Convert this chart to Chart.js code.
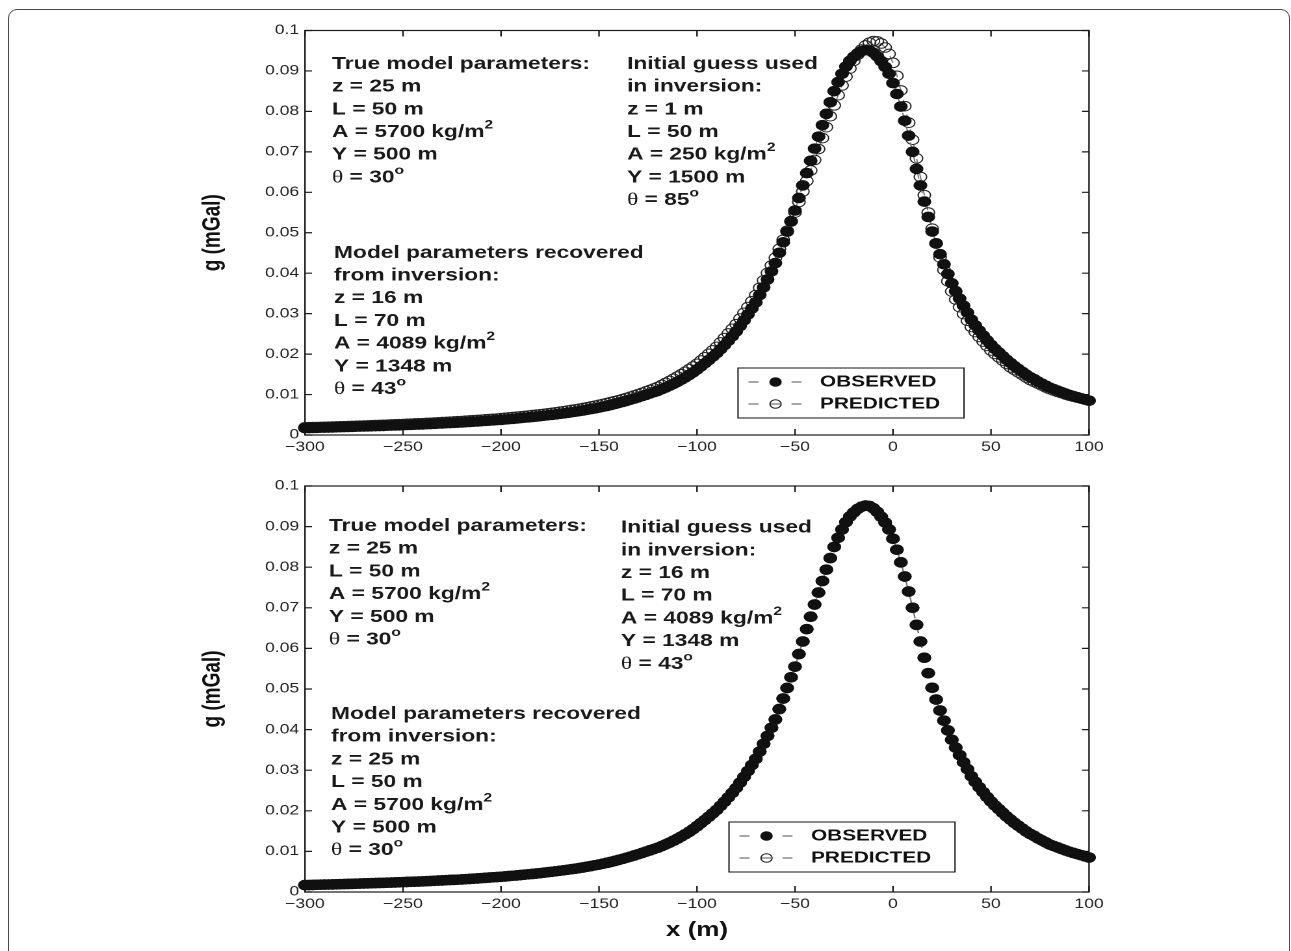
<!DOCTYPE html>
<html>
<head>
<meta charset="utf-8">
<title>Gravity anomaly inversion</title>
<script src="https://cdn.jsdelivr.net/npm/chart.js@4.4.0/dist/chart.umd.min.js"></script>
<style>
  html, body { margin: 0; padding: 0; background: #fff; overflow: hidden; }
  body { width: 1291px; height: 951px; position: relative; }
  .frame {
    position: absolute; left: 8px; top: 9px; width: 1282px; height: 1000px;
    border: 1.5px solid #4a4a4a; border-radius: 9px; box-sizing: border-box;
  }
  .panel { position: absolute; left: 0; transform-origin: 0 0; transform: scaleX(1.3); }
</style>
</head>
<body>
<div class="frame"></div>
<div class="panel" style="top:0"><canvas id="topPanel"></canvas></div>
<div class="panel" style="top:470px"><canvas id="bottomPanel"></canvas></div>
<script>
// station positions along the profile (m)
const stations = [
  -300,-298,-296,-294,-292,-290,-288,-286,-284,-282,
  -280,-278,-276,-274,-272,-270,-268,-266,-264,-262,
  -260,-258,-256,-254,-252,-250,-248,-246,-244,-242,
  -240,-238,-236,-234,-232,-230,-228,-226,-224,-222,
  -220,-218,-216,-214,-212,-210,-208,-206,-204,-202,
  -200,-198,-196,-194,-192,-190,-188,-186,-184,-182,
  -180,-178,-176,-174,-172,-170,-168,-166,-164,-162,
  -160,-158,-156,-154,-152,-150,-148,-146,-144,-142,
  -140,-138,-136,-134,-132,-130,-128,-126,-124,-122,
  -120,-118,-116,-114,-112,-110,-108,-106,-104,-102,
  -100,-98,-96,-94,-92,-90,-88,-86,-84,-82,
  -80,-78,-76,-74,-72,-70,-68,-66,-64,-62,
  -60,-58,-56,-54,-52,-50,-48,-46,-44,-42,
  -40,-38,-36,-34,-32,-30,-28,-26,-24,-22,
  -20,-18,-16,-14,-12,-10,-8,-6,-4,-2,
  0,2,4,6,8,10,12,14,16,18,
  20,22,24,26,28,30,32,34,36,38,
  40,42,44,46,48,50,52,54,56,58,
  60,62,64,66,68,70,72,74,76,78,
  80,82,84,86,88,90,92,94,96,98,
  100
];

// observed anomaly g (mGal)
const gObserved = [
  0.00170,0.00172,0.00175,0.00177,0.00180,0.00182,0.00185,0.00187,0.00190,0.00192,
  0.00195,0.00198,0.00201,0.00204,0.00207,0.00210,0.00213,0.00216,0.00219,0.00222,
  0.00225,0.00229,0.00232,0.00236,0.00239,0.00243,0.00247,0.00251,0.00254,0.00258,
  0.00262,0.00266,0.00271,0.00276,0.00281,0.00286,0.00291,0.00296,0.00300,0.00305,
  0.00310,0.00316,0.00322,0.00329,0.00335,0.00342,0.00349,0.00355,0.00362,0.00368,
  0.00375,0.00383,0.00392,0.00400,0.00409,0.00418,0.00427,0.00436,0.00446,0.00455,
  0.00465,0.00476,0.00487,0.00498,0.00510,0.00522,0.00535,0.00548,0.00561,0.00575,
  0.00590,0.00606,0.00623,0.00640,0.00658,0.00677,0.00697,0.00718,0.00740,0.00764,
  0.00790,0.00816,0.00843,0.00871,0.00900,0.00930,0.00961,0.00993,0.01026,0.01058,
  0.01090,0.01130,0.01172,0.01216,0.01263,0.01313,0.01366,0.01422,0.01482,0.01548,
  0.01620,0.01695,0.01773,0.01853,0.01936,0.02020,0.02120,0.02222,0.02330,0.02442,
  0.02560,0.02695,0.02835,0.02980,0.03128,0.03280,0.03460,0.03650,0.03845,0.04045,
  0.04250,0.04505,0.04765,0.05025,0.05288,0.05550,0.05860,0.06170,0.06475,0.06780,
  0.07080,0.07375,0.07660,0.07940,0.08225,0.08500,0.08725,0.08930,0.09110,0.09250,
  0.09350,0.09435,0.09490,0.09520,0.09505,0.09450,0.09360,0.09240,0.09100,0.08930,
  0.08700,0.08430,0.08120,0.07770,0.07400,0.07000,0.06580,0.06170,0.05770,0.05390,
  0.05030,0.04740,0.04470,0.04220,0.03980,0.03750,0.03555,0.03370,0.03195,0.03025,
  0.02850,0.02710,0.02580,0.02460,0.02340,0.02230,0.02130,0.02040,0.01950,0.01860,
  0.01780,0.01700,0.01630,0.01560,0.01490,0.01430,0.01380,0.01320,0.01270,0.01220,
  0.01170,0.01133,0.01097,0.01060,0.01025,0.00990,0.00962,0.00934,0.00906,0.00878,
  0.00850
];

// response of the initial-guess model (mGal)
const gPredictedStart = [
  0.00190,0.00193,0.00195,0.00198,0.00201,0.00204,0.00207,0.00210,0.00213,0.00215,
  0.00218,0.00221,0.00225,0.00228,0.00231,0.00235,0.00238,0.00242,0.00245,0.00249,
  0.00252,0.00256,0.00260,0.00264,0.00268,0.00272,0.00276,0.00280,0.00285,0.00289,
  0.00293,0.00298,0.00303,0.00308,0.00314,0.00319,0.00324,0.00330,0.00335,0.00341,
  0.00346,0.00353,0.00359,0.00366,0.00373,0.00380,0.00387,0.00394,0.00401,0.00408,
  0.00415,0.00424,0.00433,0.00443,0.00452,0.00462,0.00472,0.00482,0.00492,0.00502,
  0.00512,0.00524,0.00536,0.00549,0.00562,0.00576,0.00590,0.00604,0.00619,0.00634,
  0.00650,0.00668,0.00686,0.00705,0.00725,0.00746,0.00768,0.00791,0.00814,0.00837,
  0.00860,0.00888,0.00917,0.00947,0.00978,0.01010,0.01044,0.01079,0.01115,0.01152,
  0.01190,0.01237,0.01286,0.01337,0.01390,0.01445,0.01503,0.01563,0.01626,0.01692,
  0.01760,0.01840,0.01922,0.02006,0.02092,0.02180,0.02288,0.02398,0.02510,0.02624,
  0.02740,0.02880,0.03020,0.03162,0.03308,0.03460,0.03640,0.03822,0.04006,0.04192,
  0.04380,0.04602,0.04826,0.05050,0.05275,0.05500,0.05760,0.06020,0.06280,0.06540,
  0.06800,0.07070,0.07340,0.07610,0.07880,0.08150,0.08400,0.08640,0.08860,0.09060,
  0.09250,0.09400,0.09530,0.09630,0.09700,0.09740,0.09730,0.09680,0.09580,0.09420,
  0.09200,0.08880,0.08520,0.08130,0.07720,0.07300,0.06840,0.06380,0.05930,0.05500,
  0.05100,0.04730,0.04390,0.04080,0.03800,0.03550,0.03350,0.03160,0.02990,0.02825,
  0.02670,0.02545,0.02425,0.02310,0.02200,0.02090,0.02003,0.01920,0.01840,0.01755,
  0.01670,0.01606,0.01544,0.01482,0.01420,0.01360,0.01312,0.01266,0.01220,0.01175,
  0.01130,0.01096,0.01063,0.01031,0.01000,0.00970,0.00946,0.00922,0.00898,0.00874,
  0.00850
];

// the recovered model gives back the true parameters, so its response sits on the observed curve
const gPredictedFinal = gObserved;

const seriesLabels = ['OBSERVED', 'PREDICTED'];

const topNotes = [
  { x: -286.2, y: 0.0917, lines: ['True model parameters:', 'z = 25 m', 'L = 50 m', 'A = 5700 kg/m^2', 'Y = 500 m', 'θ = 30^o'] },
  { x: -135.7, y: 0.0917, lines: ['Initial guess used', 'in inversion:', 'z = 1 m', 'L = 50 m', 'A = 250 kg/m^2', 'Y = 1500 m', 'θ = 85^o'] },
  { x: -285.2, y: 0.0450, lines: ['Model parameters recovered', 'from inversion:', 'z = 16 m', 'L = 70 m', 'A = 4089 kg/m^2', 'Y = 1348 m', 'θ = 43^o'] }
];
const bottomNotes = [
  { x: -287.8, y: 0.0901, lines: ['True model parameters:', 'z = 25 m', 'L = 50 m', 'A = 5700 kg/m^2', 'Y = 500 m', 'θ = 30^o'] },
  { x: -138.8, y: 0.0897, lines: ['Initial guess used', 'in inversion:', 'z = 16 m', 'L = 70 m', 'A = 4089 kg/m^2', 'Y = 1348 m', 'θ = 43^o'] },
  { x: -286.7, y: 0.0438, lines: ['Model parameters recovered', 'from inversion:', 'z = 25 m', 'L = 50 m', 'A = 5700 kg/m^2', 'Y = 500 m', 'θ = 30^o'] }
];

// ---- layout -------------------------------------------------------------
const SX = 1.3;                       // panels are stretched horizontally by CSS
const PANEL_W = 993;                  // 993 * 1.3 ≈ 1291
const AREA_LEFT = 305 / SX;
const AREA_RIGHT = 1089 / SX;
const YAXIS_W = 86;
const LINE_GAP = 22.7;
const MARKER_R = 4.8;
const SANS = '"Liberation Sans", Arial, Helvetica, sans-serif';

function drawRich(ctx, line, x, y) {
  let cx = x;
  line.split(/(\^.|θ)/).filter(s => s).forEach(run => {
    let txt = run, dy = 0;
    if (run[0] === '^') {
      ctx.font = 'bold 12px ' + SANS;
      txt = run.slice(1);
      dy = -7;
    } else if (run === 'θ') {
      ctx.font = '18px "Liberation Serif", "Times New Roman", serif';
    } else {
      ctx.font = 'bold 17.5px ' + SANS;
    }
    ctx.fillText(txt, cx, y + dy);
    cx += ctx.measureText(txt).width;
  });
}

// axes box with inward ticks on all four sides, under the data
const boxPlugin = {
  id: 'box',
  beforeDatasetsDraw(chart) {
    const { ctx, chartArea: a, scales: { x, y } } = chart;
    ctx.save();
    ctx.strokeStyle = '#1a1a1a';
    ctx.lineWidth = 1.2;
    ctx.strokeRect(a.left, a.top, a.right - a.left, a.bottom - a.top);
    ctx.beginPath();
    x.ticks.forEach(t => {
      const px = x.getPixelForValue(t.value);
      ctx.moveTo(px, a.bottom); ctx.lineTo(px, a.bottom - 6);
      ctx.moveTo(px, a.top); ctx.lineTo(px, a.top + 6);
    });
    y.ticks.forEach(t => {
      const py = y.getPixelForValue(t.value);
      ctx.moveTo(a.left, py); ctx.lineTo(a.left + 5.4, py);
      ctx.moveTo(a.right, py); ctx.lineTo(a.right - 5.4, py);
    });
    ctx.stroke();
    ctx.restore();
  }
};

const notesPlugin = {
  id: 'notes',
  afterDatasetsDraw(chart, args, opts) {
    const { ctx, scales: { x, y } } = chart;
    ctx.save();
    ctx.fillStyle = '#1a1a1a';
    ctx.textBaseline = 'middle';
    ctx.textAlign = 'left';
    opts.blocks.forEach(b => {
      const x0 = x.getPixelForValue(b.x);
      const y0 = y.getPixelForValue(b.y);
      b.lines.forEach((line, i) => drawRich(ctx, line, x0, y0 + i * LINE_GAP));
    });
    ctx.restore();
  }
};

// boxed legend: dashed grey line with the marker in the middle
const keyPlugin = {
  id: 'key',
  afterDraw(chart, args, opts) {
    const { ctx, chartArea: a } = chart;
    const w = 226 / SX, h = 50;
    const right = a.right - opts.right / SX;
    const bottom = a.bottom - opts.bottom;
    const left = right - w, top = bottom - h;
    ctx.save();
    ctx.fillStyle = '#fff';
    ctx.fillRect(left, top, w, h);
    ctx.strokeStyle = '#111';
    ctx.lineWidth = 1;
    ctx.strokeRect(left, top, w, h);
    chart.data.datasets.forEach((ds, i) => {
      const cy = top + 14 + i * 22;
      ctx.strokeStyle = '#8c8c8c';
      ctx.lineWidth = 1.4;
      ctx.setLineDash([10 / SX, 11.5 / SX]);
      ctx.beginPath();
      ctx.moveTo(left + 10.5 / SX, cy);
      ctx.lineTo(left + 64 / SX, cy);
      ctx.stroke();
      ctx.setLineDash([]);
      ctx.beginPath();
      ctx.arc(left + 37.5 / SX, cy, 4.3, 0, Math.PI * 2);
      ctx.fillStyle = ds.pointBackgroundColor;
      ctx.fill();
      ctx.strokeStyle = ds.pointBorderColor;
      ctx.lineWidth = ds.pointBorderWidth;
      ctx.stroke();
      ctx.fillStyle = '#111';
      ctx.font = 'bold 16px ' + SANS;
      ctx.textBaseline = 'middle';
      ctx.fillText(ds.label, left + 82 / SX, cy);
    });
    ctx.restore();
  }
};

function points(values) {
  return stations.map((x, i) => ({ x: x, y: values[i] }));
}

function makePanel(id, cfg) {
  const canvas = document.getElementById(id);
  canvas.width = PANEL_W;
  canvas.height = cfg.height;
  return new Chart(canvas, {
    type: 'scatter',
    data: {
      datasets: [
        {
          label: seriesLabels[0],
          data: points(gObserved),
          showLine: true,
          borderColor: '#777',
          borderWidth: 1,
          borderDash: [7, 8],
          pointRadius: MARKER_R,
          pointHoverRadius: MARKER_R,
          pointBackgroundColor: '#111',
          pointBorderColor: '#111',
          pointBorderWidth: 1,
          clip: false
        },
        {
          label: seriesLabels[1],
          data: points(cfg.predicted),
          showLine: true,
          borderColor: '#777',
          borderWidth: 1,
          borderDash: [7, 8],
          pointRadius: MARKER_R,
          pointHoverRadius: MARKER_R,
          pointBackgroundColor: 'rgba(0,0,0,0)',
          pointBorderColor: '#222',
          pointBorderWidth: 1,
          clip: false
        }
      ]
    },
    options: {
      responsive: false,
      devicePixelRatio: 2,
      animation: false,
      events: [],
      layout: {
        padding: {
          left: AREA_LEFT - YAXIS_W,
          right: PANEL_W - AREA_RIGHT,
          top: cfg.padTop,
          bottom: cfg.padBottom
        }
      },
      scales: {
        x: {
          type: 'linear',
          min: -300,
          max: 100,
          grid: { display: false, drawTicks: false },
          border: { display: false },
          ticks: {
            stepSize: 50,
            autoSkip: false,
            maxRotation: 0,
            padding: 4,
            color: '#222',
            font: { family: SANS, size: 13.5 },
            callback: v => String(v).replace('-', '\u2212')
          },
          title: {
            display: cfg.xTitle,
            text: 'x (m)',
            color: '#111',
            font: { family: SANS, size: 20, weight: 'bold' },
            padding: { top: 0, bottom: 3.6 }
          },
          afterFit: s => { s.height = cfg.xAxisH; }
        },
        y: {
          min: 0,
          max: 0.1,
          grid: { display: false, drawTicks: false },
          border: { display: false },
          ticks: {
            stepSize: 0.01,
            padding: 4.5,
            color: '#222',
            font: { family: SANS, size: 13.5 },
            callback: v => String(+v.toFixed(2))
          },
          title: {
            display: true,
            text: 'g (mGal)',
            color: '#111',
            font: { family: SANS, size: 19, weight: 'bold' },
            padding: { top: 3.8, bottom: 0 }
          },
          afterFit: s => { s.width = YAXIS_W; }
        }
      },
      plugins: {
        legend: { display: false },
        tooltip: { enabled: false },
        notes: { blocks: cfg.notes },
        key: cfg.key
      }
    },
    plugins: [boxPlugin, notesPlugin, keyPlugin]
  });
}

makePanel('topPanel', {
  height: 470, padTop: 30.5, padBottom: 0, xAxisH: 35, xTitle: false,
  predicted: gPredictedStart, notes: topNotes, key: { right: 125, bottom: 17 }
});
makePanel('bottomPanel', {
  height: 481, padTop: 16, padBottom: 5, xAxisH: 54, xTitle: true,
  predicted: gPredictedFinal, notes: bottomNotes, key: { right: 134, bottom: 20 }
});
</script>
</body>
</html>
